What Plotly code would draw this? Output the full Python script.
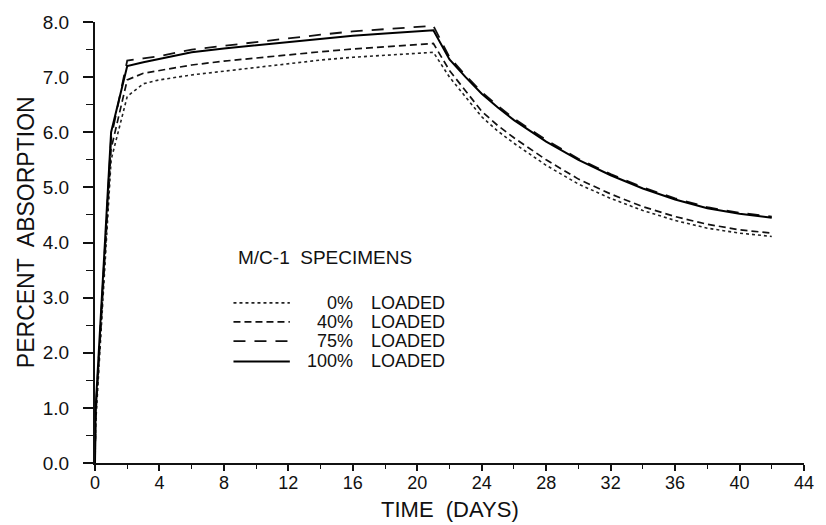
import plotly.graph_objects as go

# ---- data ----
days = [0, 0.04, 1, 2, 3, 4, 6, 8, 10, 12, 14, 16, 18, 20, 21,
        22, 23, 24, 25, 26, 28, 30, 32, 34, 36, 38, 40, 42]
load_0 = [0.0, 0.7, 5.5, 6.65, 6.88, 6.95, 7.04, 7.11, 7.18, 7.25, 7.31, 7.36, 7.40, 7.43, 7.45,
          7.0, 6.65, 6.28, 6.02, 5.8, 5.4, 5.06, 4.8, 4.58, 4.4, 4.26, 4.17, 4.11]
load_40 = [0.0, 0.8, 5.7, 6.95, 7.07, 7.12, 7.22, 7.29, 7.35, 7.41, 7.46, 7.51, 7.55, 7.59, 7.61,
           7.12, 6.75, 6.38, 6.12, 5.9, 5.5, 5.15, 4.88, 4.65, 4.47, 4.33, 4.23, 4.17]
load_75 = [0.0, 0.9, 5.9, 7.3, 7.34, 7.38, 7.5, 7.57, 7.64, 7.71, 7.77, 7.83, 7.87, 7.91, 7.93,
           7.36, 7.03, 6.73, 6.48, 6.25, 5.86, 5.52, 5.24, 5.0, 4.8, 4.64, 4.54, 4.47]
load_100 = [0.0, 1.0, 6.0, 7.2, 7.27, 7.33, 7.45, 7.52, 7.58, 7.64, 7.70, 7.75, 7.79, 7.83, 7.85,
            7.32, 7.0, 6.7, 6.45, 6.22, 5.83, 5.5, 5.22, 4.98, 4.78, 4.62, 4.52, 4.45]

series_pct = ["0%", "40%", "75%", "100%"]
series_vals = [load_0, load_40, load_75, load_100]

x_ticks = list(range(0, 45, 4))
y_ticks = [i * 1.0 for i in range(0, 9)]
y_tick_labels = [f"{v:.1f}" for v in y_ticks]

# ---- styles ----
FONT = "Liberation Sans, Arial, sans-serif"
dashes = ["3px,3px", "7px,4px", "12px,9px", "solid"]
widths = [1.6, 1.7, 1.8, 2.0]
colors = ["#222222", "#111111", "#111111", "#000000"]

fig = go.Figure()
for name, vals, d, w, c in zip(series_pct, series_vals, dashes, widths, colors):
    fig.add_trace(go.Scatter(x=days, y=vals, mode="lines", name=f"{name} LOADED",
                             line=dict(color=c, width=w, dash=d), showlegend=False))

# manual legend
row_y = [0.3631, 0.3199, 0.2763, 0.2304]
shapes = []
annotations = []
for name, d, w, c, yy in zip(series_pct, dashes, widths, colors, row_y):
    shapes.append(dict(type="line", xref="paper", yref="paper", x0=0.1953, x1=0.2748,
                       y0=yy, y1=yy, line=dict(color=c, width=w, dash=d)))
    annotations.append(dict(xref="paper", yref="paper", x=0.3668, y=yy, text=name,
                            showarrow=False, xanchor="right", yanchor="middle",
                            font=dict(family=FONT, size=18, color="#111")))
    annotations.append(dict(xref="paper", yref="paper", x=0.3863, y=yy, text="LOADED",
                            showarrow=False, xanchor="left", yanchor="middle",
                            font=dict(family=FONT, size=18, color="#111")))
annotations.append(dict(xref="paper", yref="paper", x=0.325, y=0.4653, text="M/C-1  SPECIMENS",
                        showarrow=False, xanchor="center", yanchor="middle",
                        font=dict(family=FONT, size=19, color="#111")))
annotations.append(dict(xref="paper", yref="paper", x=-0.0962, y=0.523, text="PERCENT  ABSORPTION",
                        showarrow=False, xanchor="center", yanchor="middle", textangle=-90,
                        font=dict(family=FONT, size=23, color="#111")))
annotations.append(dict(xref="paper", yref="paper", x=0.5, y=-0.106, text="TIME  (DAYS)",
                        showarrow=False, xanchor="center", yanchor="middle",
                        font=dict(family=FONT, size=22, color="#111")))

fig.update_layout(
    width=826, height=525,
    margin=dict(l=95, r=14, t=16, b=62),
    paper_bgcolor="white", plot_bgcolor="white",
    shapes=shapes, annotations=annotations,
    font=dict(family=FONT, color="#111"),
)
fig.update_xaxes(range=[0, 44], tickmode="array", tickvals=x_ticks,
                 ticktext=[str(v) for v in x_ticks],
                 ticks="outside", ticklen=6, tickwidth=1.5, tickcolor="#111",
                 minor=dict(dtick=2, tick0=0, ticks="outside", ticklen=4, tickwidth=1.2, tickcolor="#111"),
                 showline=True, linecolor="#111", linewidth=2, showgrid=False, zeroline=False,
                 ticklabelstandoff=-4,
                 tickfont=dict(family=FONT, size=18, color="#111"))
fig.update_yaxes(range=[0, 8], tickmode="array", tickvals=y_ticks, ticktext=y_tick_labels,
                 ticks="outside", ticklen=10, tickwidth=1.5, tickcolor="#111",
                 minor=dict(dtick=0.5, tick0=0, ticks="outside", ticklen=7, tickwidth=1.2, tickcolor="#111"),
                 showline=True, linecolor="#111", linewidth=2, showgrid=False, zeroline=False,
                 ticklabelstandoff=10,
                 tickfont=dict(family=FONT, size=19, color="#111"))

fig.write_html("out.html")
